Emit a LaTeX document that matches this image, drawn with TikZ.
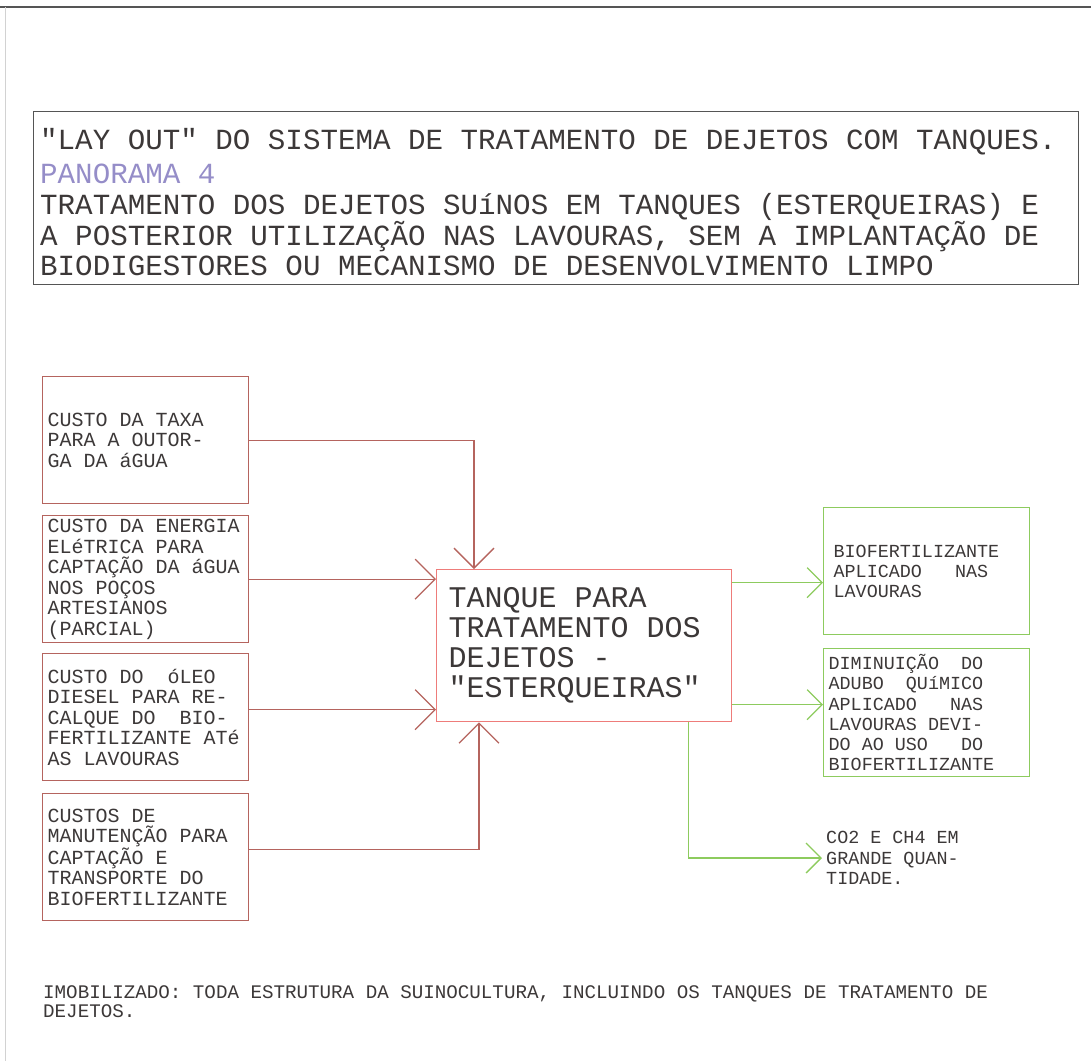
\documentclass[tikz,border=0pt]{standalone}
\usepackage{fontspec}
\newfontfamily\cadfont{Liberation Mono}
\usetikzlibrary{arrows.meta,positioning}

\definecolor{custred}{HTML}{B5645E}
\definecolor{tankred}{HTML}{EE7C7A}
\definecolor{gaingreen}{HTML}{8DCB5E}
\definecolor{inkgray}{HTML}{3C3838}
\definecolor{panlilac}{HTML}{958DC8}
\definecolor{framegray}{HTML}{555555}

\begin{document}
\begin{tikzpicture}[x=1pt, y=-1pt,
  every node/.append style={execute at begin node={\spaceskip=0pt\relax\xspaceskip=0pt\relax}},
  costbox/.style={draw=custred, line width=1.3pt, anchor=north west,
                  minimum width=206pt, minimum height=127pt, text width=196pt,
                  inner xsep=5pt, align=left, text=inkgray,
                  font=\cadfont\fontsize{20}{20.5}\selectfont},
  gainbox/.style={draw=gaingreen, line width=1.3pt, anchor=north west,
                  minimum width=206pt, minimum height=127pt, align=left, text=inkgray,
                  font=\cadfont\fontsize{18.4}{20.2}\selectfont},
  tankbox/.style={draw=tankred, line width=1.3pt, anchor=north west,
                  minimum width=295pt, minimum height=152pt, text width=271pt,
                  inner xsep=12pt, align=left, text=inkgray,
                  font=\cadfont\fontsize{30}{30}\selectfont},
  costarr/.style={draw=custred, line width=1.3pt, -{Straight Barb[length=20pt, width=40pt]}},
  gainarr/.style={draw=gaingreen, line width=1.3pt, -{Straight Barb[length=15pt, width=30pt]}}
]
\useasboundingbox (0,0) rectangle (1091,1061);

% page edges of the scan
\draw[framegray, line width=1.2pt] (0,7) -- (1091,7);
\draw[gray!35, line width=0.6pt] (5,7) -- (5,1061);

% title
\node[draw=framegray, line width=1pt, anchor=north west, minimum width=1045pt,
      minimum height=173pt] (frame) at (33,111) {};
\node[anchor=west, align=left, inner sep=0pt, text=inkgray,
      font=\cadfont\fontsize{29.2}{30.5}\selectfont] (title) at (40,202.5)
  {"LAY OUT" DO SISTEMA DE TRATAMENTO DE DEJETOS COM TANQUES.\\[3.5pt]
   {\color{panlilac}PANORAMA 4}\\[0.5pt]
   TRATAMENTO DOS DEJETOS SUíNOS EM TANQUES (ESTERQUEIRAS) E\\
   A POSTERIOR UTILIZAÇÃO NAS LAVOURAS, SEM A IMPLANTAÇÃO DE\\
   BIODIGESTORES OU MECANISMO DE DESENVOLVIMENTO LIMPO};

% costs
\node[costbox] (b1) at (42,376) {CUSTO DA TAXA\\PARA A OUTOR-\\GA DA áGUA};
\node[costbox] (b2) at (42,515) {CUSTO DA ENERGIA\\ELéTRICA PARA\\CAPTAÇÃO DA áGUA\\NOS POÇOS\\ARTESIANOS\\(PARCIAL)};
\node[costbox] (b3) at (42,653) {CUSTO DO~~óLEO\\DIESEL PARA RE-\\CALQUE DO~~BIO-\\FERTILIZANTE ATé\\AS LAVOURAS};
\node[costbox] (b4) at (42,793) {CUSTOS DE\\MANUTENÇÃO PARA\\CAPTAÇÃO E\\TRANSPORTE DO\\BIOFERTILIZANTE};

% tank
\node[tankbox] (tank) at (436,569) {TANQUE PARA\\TRATAMENTO DOS\\DEJETOS -\\"ESTERQUEIRAS"};

% results
\node[gainbox, text width=186pt, inner xsep=10pt] (gA) at (823,507)
  {BIOFERTILIZANTE\\APLICADO~~~NAS\\LAVOURAS};
\node[gainbox, text width=196pt, inner xsep=5pt, minimum height=128pt] (gB) at (823,648)
  {DIMINUIÇÃO~~DO\\ADUBO~~QUíMICO\\APLICADO~~~NAS\\LAVOURAS DEVI-\\DO AO USO~~~DO\\BIOFERTILIZANTE};
\node[anchor=west, align=left, inner sep=4pt, text=inkgray,
      font=\cadfont\fontsize{18.4}{20.2}\selectfont] (co2) at (822,858)
  {CO2 E CH4 EM\\GRANDE QUAN-\\TIDADE.};

\coordinate (in1) at ([xshift=38pt]tank.north west);
\coordinate (in4) at ([xshift=43pt]tank.south west);
\coordinate (out3) at ([xshift=-44pt]tank.south east);

\draw[costarr] (b1.east) -| (in1);
\draw[costarr] (b2.east) -- (b2.east -| tank.west);
\draw[costarr] ([yshift=7.5pt]b3.east) -- ([yshift=7.5pt]b3.east -| tank.west);
\draw[costarr] ([yshift=7.5pt]b4.east) -| (in4);

\draw[gainarr] ([yshift=63pt]tank.east) -- ([yshift=63pt]tank.east -| gA.west);
\draw[gainarr] ([yshift=-59pt]tank.east) -- ([yshift=-59pt]tank.east -| gB.west);
\draw[gainarr] (out3) |- (co2.west);

% note
\node[anchor=west, align=left, inner sep=0pt, text=inkgray,
      font=\cadfont\fontsize{19.2}{19}\selectfont] (note) at (43,1002)
  {IMOBILIZADO: TODA ESTRUTURA DA SUINOCULTURA, INCLUINDO OS TANQUES DE TRATAMENTO DE\\DEJETOS.};
\end{tikzpicture}
\end{document}
